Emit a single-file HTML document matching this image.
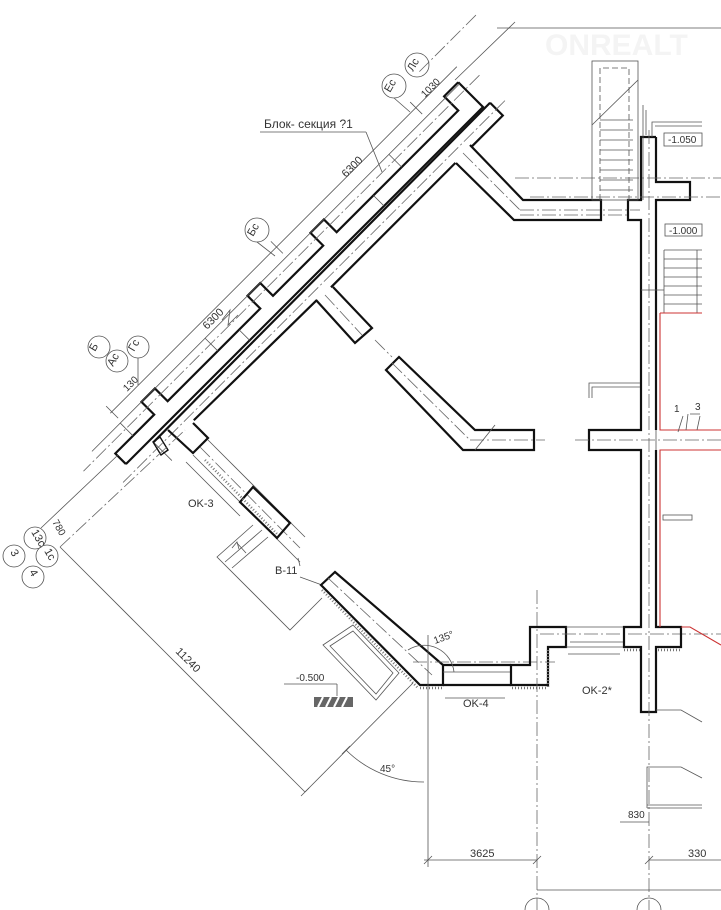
<!DOCTYPE html>
<html><head><meta charset="utf-8"><style>
html,body{margin:0;padding:0;background:#fff;}
svg{display:block;font-family:"Liberation Sans",sans-serif;}
.t{stroke:#111;stroke-width:2.2;fill:none;stroke-linejoin:miter}
.n{stroke:#555;stroke-width:0.8;fill:none}
.d{stroke:#666;stroke-width:0.8;fill:none;stroke-dasharray:14 3 2 3}
.h{stroke:#777;stroke-width:2.5;fill:none;stroke-dasharray:1 2}
.r{stroke:#c33;stroke-width:1.1;fill:none}
text{fill:#333;font-size:11px}
</style></head><body>
<svg width="721" height="910" viewBox="0 0 721 910">
<text x="545" y="55" style="font-size:30px;font-weight:bold;fill:#f4f4f4">ONREALT</text>
<line class="n" x1="497" y1="28" x2="721" y2="28"/>
<line class="n" x1="455" y1="80" x2="515" y2="22"/>

<g transform="matrix(-0.7071,0.7071,0.7071,0.7071,483,107)">
  <path class="t" d="M0,-35 L0,0 L505,0"/>
  <path class="t" d="M0,-35 L20,-35 L20,-15 L192,-15 L192,-33 L211,-33 L211,-15 L282,-15 L282,-33 L300,-33 L300,-15 L431,-15 L431,-33 L450,-33 L450,-15 L505,-15 L505,0"/>
  <line class="n" x1="0" y1="-33" x2="520" y2="-33"/>
  <line class="d" x1="-20" y1="-25" x2="540" y2="-25"/>
  <line class="n" x1="100" y1="-33" x2="100" y2="-15"/>
  <line class="n" x1="360" y1="-33" x2="360" y2="-15"/>
  <line class="n" x1="480" y1="-33" x2="480" y2="-15"/>
  <line class="n" x1="140" y1="-15" x2="140" y2="0"/>
  <line class="n" x1="330" y1="-15" x2="330" y2="0"/>
  <line class="n" x1="-10" y1="-47" x2="480" y2="-47"/>
  <line class="n" x1="48" y1="-55" x2="48" y2="-38"/>
  <line class="n" x1="245" y1="-55" x2="245" y2="-38"/>
  <line class="n" x1="478" y1="-55" x2="478" y2="-38"/>
  <line class="d" x1="-60" y1="-70" x2="20" y2="-70"/>
  <path class="t" d="M-8,2 L-8,20 L37,20"/>
  <line class="t" x1="-8" y1="2" x2="470" y2="4"/>
  <line class="t" x1="59" y1="20" x2="235" y2="20"/>
  <line class="t" x1="254" y1="19" x2="426" y2="17"/>
  <line class="d" x1="-20" y1="11" x2="520" y2="11"/>
  <line class="n" x1="470" y1="4" x2="470" y2="30"/>
</g>

<text transform="translate(346,178) rotate(-45)" >6300</text>
<text transform="translate(207,330) rotate(-45)">6300</text>
<text transform="translate(425,98) rotate(-45)" style="font-size:10px">1030</text>
<text transform="translate(127,392) rotate(-45)" style="font-size:10px">130</text>
<text x="264" y="128" style="font-size:12px">Блок- секция ?1</text>
<line class="n" x1="260" y1="132" x2="366" y2="132"/>
<line class="n" x1="366" y1="132" x2="382" y2="172"/>
<polyline class="n" points="222,320 230,310 228,325 238,315"/>

<g class="n">
<circle cx="417" cy="65" r="12"/><circle cx="394" cy="86" r="12"/>
<circle cx="257" cy="230" r="12"/>
<circle cx="99" cy="347" r="11"/><circle cx="117" cy="361" r="11"/><circle cx="138" cy="347" r="11"/>
<circle cx="35" cy="538" r="11"/><circle cx="14" cy="556" r="11"/><circle cx="47" cy="556" r="11"/><circle cx="33" cy="577" r="11"/>
<circle cx="537" cy="910" r="12"/><circle cx="649" cy="910" r="12"/>
</g>
<g style="font-size:10px">
<text transform="translate(413,72) rotate(-60)">Лс</text>
<text transform="translate(390,93) rotate(-60)">Ес</text>
<text transform="translate(253,237) rotate(-60)">Бс</text>
<text transform="translate(95,352) rotate(-60)">Б</text>
<text transform="translate(113,367) rotate(-60)">Ас</text>
<text transform="translate(134,352) rotate(-60)">Гс</text>
<text transform="translate(31,532) rotate(60)">13с</text>
<text transform="translate(10,552) rotate(60)">3</text>
<text transform="translate(44,551) rotate(60)">1с</text>
<text transform="translate(29,572) rotate(60)">4</text>
</g>
<line class="n" x1="138" y1="358" x2="138" y2="385"/>
<line class="n" x1="394" y1="98" x2="410" y2="112"/>
<line class="n" x1="257" y1="242" x2="275" y2="256"/>

<polyline class="t" points="470,145 523,200 601,200 601,220 514,220 456,163"/>
<line class="d" x1="463" y1="153" x2="520" y2="210"/><line class="d" x1="520" y1="210" x2="640" y2="210"/>
<polyline class="t" points="333,287 372,328 355,343 316,300"/>
<line class="d" x1="325" y1="295" x2="362" y2="335"/>
<polygon class="t" points="399,357 475,430 534,430 534,450 463,450 386,370"/>
<line class="d" x1="392" y1="363" x2="470" y2="440"/><line class="d" x1="470" y1="440" x2="545" y2="440"/>
<line class="d" x1="375" y1="340" x2="392" y2="357"/>
<line class="n" x1="475" y1="450" x2="495" y2="425"/>

<polyline class="t" points="193,423 208,438 193,453 168,430"/>
<polygon points="153,442 160,437 168,450 161,455" class="n" style="stroke:#111;stroke-width:1.4"/>
<line class="n" x1="193" y1="455" x2="300" y2="562"/>
<line class="n" x1="208" y1="440" x2="305" y2="537"/>
<line class="n" x1="186" y1="462" x2="240" y2="516"/>
<line class="d" x1="200" y1="447" x2="300" y2="548"/>
<polygon class="t" points="253,487 290,523 277,538 240,502"/>
<line class="h" x1="205" y1="460" x2="278" y2="535"/>
<text x="188" y="507">OK-3</text>
<polyline class="n" points="253,525 217,557 290,630 322,598"/>
<line class="n" x1="225" y1="562" x2="262" y2="530"/>
<line class="n" x1="232" y1="568" x2="268" y2="537"/>
<line class="n" x1="237" y1="543" x2="246" y2="553"/>
<path class="n" d="M232,548 l5,-6 l2,7"/>
<line class="n" x1="298" y1="558" x2="300" y2="566"/>

<text x="275" y="574">B-11</text>
<line class="n" x1="300" y1="577" x2="322" y2="585"/>
<polygon class="t" points="321,585 335,572 443,665 443,685 420,685"/>
<line class="h" x1="322" y1="590" x2="418" y2="688"/>
<line class="d" x1="328" y1="578" x2="432" y2="675"/>
<polygon class="n" points="353,625 323,645 376,700 399,673"/>
<polygon class="n" points="353,631 330,646 376,694 393,673"/>
<text x="296" y="681" style="font-size:10px">-0.500</text>
<line class="n" x1="284" y1="684" x2="337" y2="684"/>
<line class="n" x1="337" y1="684" x2="337" y2="696"/>
<rect x="314" y="697" width="39" height="10" fill="#666"/>
<g stroke="#fff" stroke-width="2"><line x1="318" y1="707" x2="323" y2="697"/><line x1="326" y1="707" x2="331" y2="697"/><line x1="334" y1="707" x2="339" y2="697"/><line x1="342" y1="707" x2="347" y2="697"/></g>

<line class="t" x1="443" y1="665" x2="511" y2="665"/>
<line class="t" x1="443" y1="685" x2="511" y2="685"/>
<line class="n" x1="443" y1="672" x2="511" y2="672"/>
<line class="n" x1="445" y1="698" x2="505" y2="698"/>
<line class="d" x1="413" y1="662" x2="555" y2="662"/>
<polygon class="t" points="511,665 530,665 530,627 566,627 566,647 548,647 548,685 511,685"/>
<line class="h" x1="512" y1="688" x2="548" y2="688"/>
<line class="h" x1="548" y1="650" x2="548" y2="688"/>
<line class="h" x1="420" y1="688" x2="442" y2="688"/>
<line class="n" x1="566" y1="627" x2="624" y2="627"/>
<line class="n" x1="566" y1="647" x2="624" y2="647"/>
<line class="n" x1="570" y1="642" x2="624" y2="642"/>
<line class="d" x1="540" y1="634" x2="721" y2="634"/>
<line class="n" x1="568" y1="654" x2="620" y2="654"/>
<text x="463" y="707">OK-4</text>
<text x="582" y="694">OK-2*</text>

<path class="t" d="M656,137 L641,137 L641,200 L628,200 L628,220 L641,220 L641,430 L589,430 L589,450 L641,450 L641,627 L624,627 L624,647 L641,647 L641,712 L656,712 L656,647 L681,647 L681,627 L656,627 L656,450 M656,430 L656,200 L690,200 L690,182 L656,182 L656,137"/>
<line class="h" x1="624" y1="650" x2="640" y2="650"/>
<line class="h" x1="658" y1="650" x2="680" y2="650"/>
<line class="d" x1="649" y1="130" x2="649" y2="910"/>
<line class="d" x1="537" y1="590" x2="537" y2="910"/>
<line class="n" x1="656" y1="430" x2="656" y2="450"/>
<polyline class="n" points="589,398 589,383 640,383"/>
<polyline class="n" points="592,398 592,387 640,387"/>
<path class="r" d="M660,313 L660,430 L721,430 M660,627 L660,450 L721,450 M681,627 L690,627 L721,645"/>
<line class="d" x1="515" y1="178" x2="721" y2="178"/>
<line class="d" x1="530" y1="197" x2="721" y2="197"/>
<line class="d" x1="520" y1="215" x2="630" y2="215"/>
<line class="d" x1="575" y1="440" x2="721" y2="440"/>
<line class="n" x1="641" y1="290" x2="664" y2="290"/>
<rect class="n" x="592" y="61" width="46" height="139"/>
<path class="n" d="M600,200 V68 H629 V200" style="stroke-dasharray:6 3"/>
<g class="n"><line x1="600" y1="130" x2="633" y2="130"/><line x1="600" y1="140" x2="633" y2="140"/><line x1="600" y1="150" x2="633" y2="150"/><line x1="600" y1="160" x2="633" y2="160"/><line x1="600" y1="170" x2="633" y2="170"/><line x1="600" y1="180" x2="633" y2="180"/><line x1="600" y1="190" x2="633" y2="190"/><line x1="600" y1="120" x2="633" y2="120"/>
<line x1="592" y1="125" x2="638" y2="80"/><line x1="643" y1="105" x2="643" y2="200"/><line x1="646" y1="110" x2="646" y2="135"/></g>
<rect class="n" x="664" y="133" width="38" height="13"/>
<text x="668" y="143" style="font-size:10px">-1.050</text>
<path class="n" d="M652,137 V122 H702 M655,126 H702"/>
<rect class="n" x="665" y="224" width="37" height="12"/>
<text x="669" y="234" style="font-size:10px">-1.000</text>
<g class="n"><line x1="664" y1="250" x2="702" y2="250"/><line x1="664" y1="259" x2="702" y2="259"/><line x1="664" y1="268" x2="702" y2="268"/><line x1="664" y1="277" x2="702" y2="277"/><line x1="664" y1="286" x2="702" y2="286"/><line x1="664" y1="295" x2="702" y2="295"/><line x1="664" y1="304" x2="702" y2="304"/><line x1="664" y1="250" x2="664" y2="313"/><line x1="697" y1="250" x2="697" y2="313"/></g>
<line class="r" x1="660" y1="313" x2="702" y2="313"/>
<text x="674" y="412" style="font-size:10px">1</text><text x="695" y="410" style="font-size:10px">3</text>
<path class="n" d="M683,416 L678,432 M688,414 L686,430 M700,416 L697,430 M690,414 H700"/>
<rect class="n" x="663" y="515" width="29" height="5"/>
<path class="n" d="M656,710 H681 L702,722 M647,808 V767 H681 L702,778 M647,808 H702 M647,805 H702"/>

<line class="n" x1="41" y1="528" x2="118" y2="455"/>
<line class="d" x1="60" y1="547" x2="185" y2="430"/>
<line class="n" x1="60" y1="547" x2="305" y2="792"/>
<line class="n" x1="305" y1="792" x2="413" y2="683"/>
<text transform="translate(52,522) rotate(60)" style="font-size:10px">780</text>
<text transform="translate(175,652) rotate(45)">11240</text>
<path class="n" d="M346,750 A110,110 0 0 0 424,782"/>
<text x="380" y="772" style="font-size:10px">45°</text>
<path class="n" d="M408,650 A30,30 0 0 1 454,672"/>
<text transform="translate(435,644) rotate(-20)" style="font-size:10px">135°</text>
<line class="n" x1="428" y1="635" x2="428" y2="867"/>
<line class="n" x1="424" y1="860" x2="537" y2="860"/>
<text x="470" y="857">3625</text>
<line class="n" x1="649" y1="860" x2="721" y2="860"/>
<text x="688" y="857">330</text>
<line class="n" x1="537" y1="890" x2="721" y2="890"/>
<line class="n" x1="620" y1="822" x2="649" y2="822"/>
<text x="628" y="818" style="font-size:10px">830</text>
<g class="n"><line x1="424" y1="864" x2="432" y2="856"/><line x1="533" y1="864" x2="541" y2="856"/><line x1="645" y1="864" x2="653" y2="856"/><line x1="301" y1="796" x2="309" y2="788"/><line x1="342" y1="754" x2="350" y2="746"/></g>
</svg>
</body></html>
